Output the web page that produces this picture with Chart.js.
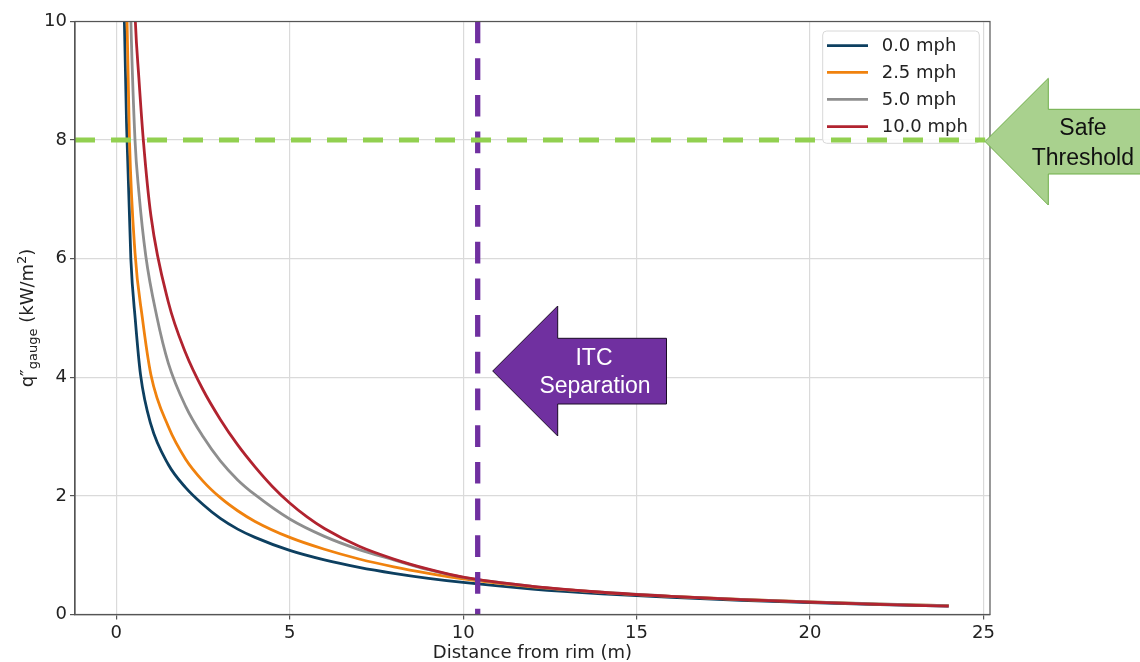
<!DOCTYPE html>
<html><head><meta charset="utf-8">
<script src="https://cdn.jsdelivr.net/npm/chart.js@4.4.1/dist/chart.umd.min.js"></script>
<style>html,body{margin:0;padding:0;background:#fff;}#wrap{position:relative;width:1140px;height:662px;}</style>
</head><body><div id="wrap"><canvas id="c" width="1140" height="662"></canvas></div>
<script>
// ---- data ----
const seriesLabels = ['0.0 mph', '2.5 mph', '5.0 mph', '10.0 mph'];
const seriesColors = ['#0d3f60', '#f0820e', '#8e8e8e', '#b1232f'];

const blueX  = [0.2, 0.23, 0.3, 0.42, 0.55, 0.7, 1, 1.5, 2, 2.5, 3, 3.5, 4, 5, 6, 7, 8, 9, 10, 12, 14, 16, 18, 20, 22, 24];
const blueY  = [11.5, 10.1, 8.2, 6.0, 4.96, 4.04, 3.2, 2.53, 2.14, 1.855, 1.62, 1.44, 1.30, 1.08, 0.92, 0.795, 0.694, 0.609, 0.54, 0.43, 0.349, 0.288, 0.24, 0.20, 0.167, 0.14];
const orangeX = [0.27, 0.31, 0.38, 0.54, 0.75, 1, 1.5, 2, 2.5, 3, 3.5, 4, 5, 6, 7, 8, 9, 10, 12, 14, 16, 18, 20, 22, 24];
const orangeY = [11.6, 10, 8, 6.1, 5.01, 4.04, 3.17, 2.62, 2.25, 1.97, 1.75, 1.57, 1.30, 1.10, 0.936, 0.803, 0.693, 0.6, 0.467, 0.374, 0.306, 0.253, 0.212, 0.176, 0.148];
const grayX  = [0.36, 0.42, 0.54, 0.65, 0.85, 1.17, 1.5, 2, 2.5, 3, 3.5, 4, 5, 6, 7, 8, 9, 10, 12, 14, 16, 18, 20, 22, 24];
const grayY  = [11.67, 10.03, 8, 7.13, 6.05, 5.02, 4.24, 3.51, 3.0, 2.59, 2.27, 2.02, 1.61, 1.317, 1.095, 0.921, 0.755, 0.625, 0.475, 0.375, 0.307, 0.254, 0.212, 0.177, 0.149];
const redX   = [0.47, 0.55, 0.65, 0.78, 1, 1.5, 2, 2.5, 3, 3.5, 4, 4.5, 5, 5.5, 6, 7, 8, 9, 10, 12, 14, 16, 18, 20, 22, 24];
const redY   = [11.5, 10, 9.06, 8, 6.72, 5.27, 4.41, 3.79, 3.29, 2.86, 2.49, 2.16, 1.88, 1.645, 1.449, 1.15, 0.935, 0.765, 0.63, 0.475, 0.375, 0.305, 0.25, 0.207, 0.17, 0.14];

const safeThreshold = 8;          // kW/m2
const thresholdXRange = [-1.19, 25.05];
const itcSeparation = 10.42;      // m
const itcYRange = [10, 0];

const xTicks = [0, 5, 10, 15, 20, 25];
const yTicks = [0, 2, 4, 6, 8, 10];
const xMin = -1.19, xMax = 25.19, yMin = 0, yMax = 10;

const xTitle = 'Distance from rim (m)';
const arrowTexts = { itc: ['ITC', 'Separation'], safe: ['Safe', 'Threshold'] };

// ---- build ----
const zip = (xs, ys) => xs.map((x, i) => ({ x, y: ys[i] }));
const seriesXs = [blueX, orangeX, grayX, redX];
const seriesYs = [blueY, orangeY, grayY, redY];

const datasets = seriesLabels.map((lab, i) => ({
  label: lab,
  data: zip(seriesXs[i], seriesYs[i]),
  borderColor: seriesColors[i],
  backgroundColor: seriesColors[i],
  borderWidth: 2.8,
  pointRadius: 0,
  cubicInterpolationMode: 'monotone',
  order: 4 - i + 1
}));
datasets.push({
  label: '_threshold',
  data: thresholdXRange.map(x => ({ x, y: safeThreshold })),
  borderColor: '#92d050', borderWidth: 5, borderDash: [20, 16], pointRadius: 0, order: 0
});
datasets.push({
  label: '_itc',
  data: itcYRange.map(y => ({ x: itcSeparation, y })),
  borderColor: '#7030a0', borderWidth: 5.3, borderDash: [21.7, 15], pointRadius: 0, order: 0
});

const FONT = 'DejaVu Sans';

const overlay = {
  id: 'overlay',
  beforeDatasetsDraw(chart) {
    const c = chart.ctx;
    c.save();
    const bx = 822.7, by = 31, bw = 156.6, bh = 112.3, r = 4;
    c.beginPath();
    c.moveTo(bx + r, by); c.lineTo(bx + bw - r, by); c.quadraticCurveTo(bx + bw, by, bx + bw, by + r);
    c.lineTo(bx + bw, by + bh - r); c.quadraticCurveTo(bx + bw, by + bh, bx + bw - r, by + bh);
    c.lineTo(bx + r, by + bh); c.quadraticCurveTo(bx, by + bh, bx, by + bh - r);
    c.lineTo(bx, by + r); c.quadraticCurveTo(bx, by, bx + r, by); c.closePath();
    c.fillStyle = 'rgba(255,255,255,0.85)'; c.fill();
    c.strokeStyle = '#d8d8d8'; c.lineWidth = 1; c.stroke();
    const rows = [45.7, 72.3, 99.3, 126.7];
    c.font = '18px "' + FONT + '"'; c.textBaseline = 'middle'; c.textAlign = 'left';
    seriesLabels.forEach((lab, i) => {
      c.beginPath(); c.moveTo(827, rows[i]); c.lineTo(868, rows[i]);
      c.strokeStyle = seriesColors[i]; c.lineWidth = 2.8; c.stroke();
      c.fillStyle = '#222'; c.fillText(lab, 881.7, rows[i] + 1);
    });
    c.restore();
  },
  afterDraw(chart) {
    const c = chart.ctx, a = chart.chartArea;
    c.save();
    c.strokeStyle = '#555'; c.lineWidth = 1.2;
    c.strokeRect(a.left, a.top, a.right - a.left, a.bottom - a.top);
    c.fillStyle = '#222'; c.font = '18px "' + FONT + '"';
    c.textAlign = 'center'; c.textBaseline = 'middle';
    c.fillText(xTitle, (a.left + a.right) / 2, 653);
    c.save();
    c.translate(27, (a.top + a.bottom) / 2);
    c.rotate(-Math.PI / 2);
    const parts = [
      { t: 'q\u2033', s: 18, dy: 0 },
      { t: 'gauge', s: 13, dy: 4 },
      { t: ' (kW/m', s: 18, dy: 0 },
      { t: '2', s: 13, dy: -7 },
      { t: ')', s: 18, dy: 0 }
    ];
    let total = 0;
    parts.forEach(p => { c.font = p.s + 'px "' + FONT + '"'; p.w = c.measureText(p.t).width; total += p.w; });
    let px = -total / 2;
    c.textAlign = 'left'; c.textBaseline = 'alphabetic';
    parts.forEach(p => { c.font = p.s + 'px "' + FONT + '"'; c.fillText(p.t, px, 6 + p.dy); px += p.w; });
    c.restore();

    c.beginPath();
    c.moveTo(492.7, 371); c.lineTo(557.7, 306); c.lineTo(557.7, 338.3); c.lineTo(666.5, 338.3);
    c.lineTo(666.5, 404); c.lineTo(557.7, 404); c.lineTo(557.7, 436); c.closePath();
    c.fillStyle = '#7030a0'; c.fill(); c.strokeStyle = '#1a0a26'; c.lineWidth = 1; c.stroke();
    c.fillStyle = '#ffffff'; c.font = '23px "Liberation Sans"'; c.textAlign = 'center'; c.textBaseline = 'alphabetic';
    c.fillText(arrowTexts.itc[0], 594, 365);
    c.fillText(arrowTexts.itc[1], 595, 393);

    c.beginPath();
    c.moveTo(985, 141.5); c.lineTo(1048.3, 78.3); c.lineTo(1048.3, 109.3); c.lineTo(1145, 109.3);
    c.lineTo(1145, 174); c.lineTo(1048.3, 174); c.lineTo(1048.3, 205); c.closePath();
    c.fillStyle = '#a9d18e'; c.fill(); c.strokeStyle = '#6fae49'; c.lineWidth = 1; c.stroke();
    c.fillStyle = '#111'; c.font = '23px "Liberation Sans"';
    c.textAlign = 'center'; c.fillText(arrowTexts.safe[0], 1083, 135);
    c.textAlign = 'left'; c.fillText(arrowTexts.safe[1], 1031.7, 165);
    c.restore();
  }
};

const tickFont = { family: FONT, size: 18 };
new Chart(document.getElementById('c').getContext('2d'), {
  type: 'line',
  data: { datasets },
  options: {
    responsive: false, animation: false, devicePixelRatio: 1,
    layout: { padding: { left: 0, right: 150, top: 21.5, bottom: 0 } },
    plugins: { legend: { display: false }, tooltip: { enabled: false } },
    scales: {
      x: {
        type: 'linear', min: xMin, max: xMax,
        afterBuildTicks(s) { s.ticks = xTicks.map(v => ({ value: v })); },
        afterFit(s) { s.height = 47.5; },
        grid: { color: '#dadada', lineWidth: 1.2, tickColor: '#555', tickLength: 5 },
        border: { color: '#555', width: 1.2 },
        ticks: { font: tickFont, color: '#222', padding: 3, maxRotation: 0, autoSkip: false }
      },
      y: {
        type: 'linear', min: yMin, max: yMax,
        afterBuildTicks(s) { s.ticks = yTicks.map(v => ({ value: v })); },
        afterFit(s) { s.width = 75; },
        grid: { color: '#dadada', lineWidth: 1.2, tickColor: '#555', tickLength: 5 },
        border: { color: '#555', width: 1.2 },
        ticks: { font: tickFont, color: '#222', padding: 3, autoSkip: false }
      }
    }
  },
  plugins: [overlay]
});
</script></body></html>
